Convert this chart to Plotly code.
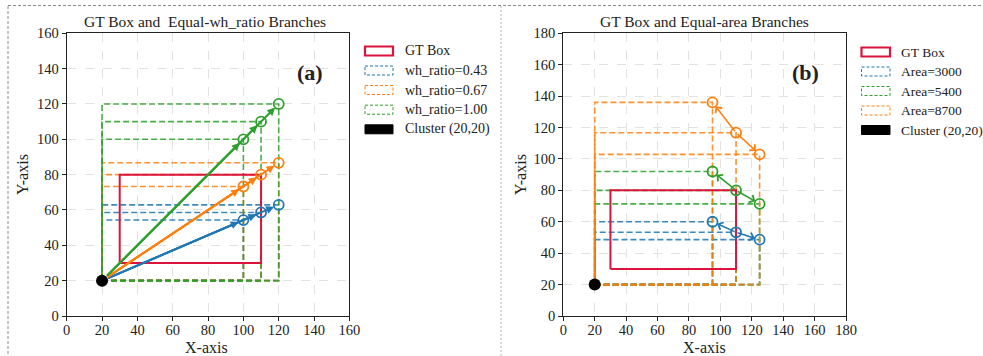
import plotly.graph_objects as go

# ---------------- data ----------------
cluster = (20, 20)
gt_box_x = [30, 110]
gt_box_y = [30, 80]

# panel (a): equal wh_ratio branches
a_labels = ["wh_ratio=0.43", "wh_ratio=0.67", "wh_ratio=1.00"]
a_corner_x = [100, 110, 120]
a_blue_y = [54.3, 58.6, 62.9]
a_orange_y = [73.3, 80.0, 86.7]
a_green_y = [100, 110, 120]

# panel (b): equal area branches
b_labels = ["Area=3000", "Area=5400", "Area=8700"]
b_corner_x = [95, 110, 125]
b_blue_y = [60.0, 53.3, 48.6]
b_green_y = [92.0, 80.0, 71.4]
b_orange_y = [136.0, 116.7, 102.9]

a_ticks = [0, 20, 40, 60, 80, 100, 120, 140, 160]
b_ticks = [0, 20, 40, 60, 80, 100, 120, 140, 160, 180]

BLUE, ORANGE, GREEN = "#1f77b4", "#ff7f0e", "#2ca02c"
RED = "#dc143c"
FONT = "Liberation Serif"
W, H = 983, 356


def px(x):
    return x / W


def py(y):
    return 1 - y / H


fig = go.Figure()


def add_panel(xa, ya, corner_x, series, arrows_mode):
    # dashed rectangles from cluster to each corner
    for ys, col in series:
        for cx, cy in zip(corner_x, ys):
            fig.add_trace(go.Scatter(
                x=[cluster[0], cx, cx, cluster[0], cluster[0]],
                y=[cluster[1], cluster[1], cy, cy, cluster[1]],
                mode="lines", xaxis=xa, yaxis=ya, showlegend=False,
                line=dict(color=col, width=1.6, dash="6px,3px"), opacity=0.85,
                hoverinfo="skip"))
    # GT box
    fig.add_trace(go.Scatter(
        x=[gt_box_x[0], gt_box_x[1], gt_box_x[1], gt_box_x[0], gt_box_x[0]],
        y=[gt_box_y[0], gt_box_y[0], gt_box_y[1], gt_box_y[1], gt_box_y[0]],
        mode="lines", xaxis=xa, yaxis=ya, showlegend=False,
        line=dict(color=RED, width=2)))
    # circles at corners
    for ys, col in series:
        fig.add_trace(go.Scatter(
            x=corner_x, y=ys, mode="markers", xaxis=xa, yaxis=ya, showlegend=False,
            marker=dict(symbol="circle-open", size=10, color=col, line=dict(width=1.8))))
    # cluster
    fig.add_trace(go.Scatter(
        x=[cluster[0]], y=[cluster[1]], mode="markers", xaxis=xa, yaxis=ya,
        showlegend=False, marker=dict(size=12, color="black")))
    # arrows
    for ys, col in series:
        if arrows_mode == "from_cluster":
            for cx, cy in zip(corner_x, ys):
                fig.add_annotation(
                    x=cx, y=cy, ax=cluster[0], ay=cluster[1], xref=xa, yref=ya,
                    axref=xa, ayref=ya, text="", showarrow=True, arrowhead=2,
                    arrowsize=0.8, arrowwidth=2, arrowcolor=col, standoff=5,
                    startstandoff=5)
        else:
            mx, my = corner_x[1], ys[1]
            for k in (0, 2):
                fig.add_annotation(
                    x=corner_x[k], y=ys[k], ax=mx, ay=my, xref=xa, yref=ya,
                    axref=xa, ayref=ya, text="", showarrow=True, arrowhead=4,
                    arrowsize=1.0, arrowwidth=1.6, arrowcolor=col, standoff=5,
                    startstandoff=0)


add_panel("x", "y", a_corner_x,
          [(a_blue_y, BLUE), (a_orange_y, ORANGE), (a_green_y, GREEN)], "from_cluster")
add_panel("x2", "y2", b_corner_x,
          [(b_blue_y, BLUE), (b_green_y, GREEN), (b_orange_y, ORANGE)], "from_middle")

axis_common = dict(
    automargin=False,
    showline=True, linecolor="#222", linewidth=1.2, mirror=True,
    ticks="outside", ticklen=4, tickcolor="#222", tickwidth=1,
    showgrid=True, gridcolor="#e2e2e2", gridwidth=0.8, griddash="dash",
    zeroline=False, tickfont=dict(family=FONT, size=14.5, color="#222"),
)

yd = [py(316), py(33.3)]
fig.update_layout(
    template="none",
    width=W, height=H, autosize=False,
    margin=dict(l=0, r=0, t=0, b=0, pad=0),
    paper_bgcolor="white", plot_bgcolor="white",
    showlegend=False,
    xaxis=dict(domain=[px(66.7), px(349.4)], range=[0, 160], tickvals=a_ticks,
               anchor="y", ticklabelstandoff=-4, **axis_common),
    yaxis=dict(domain=yd, range=[0, 160], tickvals=a_ticks, anchor="x", **axis_common),
    xaxis2=dict(domain=[px(563.3), px(846)], range=[0, 180], tickvals=b_ticks,
                anchor="y2", ticklabelstandoff=-4, **axis_common),
    yaxis2=dict(domain=yd, range=[0, 180], tickvals=b_ticks, anchor="x2", **axis_common),
)

# panel borders
border = dict(color="#8a8a8a", width=1, dash="3px,2px")
fig.add_shape(type="line", xref="paper", yref="paper", x0=px(8), x1=px(8), y0=py(6), y1=0, line=border)
fig.add_shape(type="line", xref="paper", yref="paper", x0=px(8), x1=1, y0=py(5.5), y1=py(5.5), line=border)
fig.add_shape(type="line", xref="paper", yref="paper", x0=px(501), x1=px(501), y0=py(6), y1=0,
              line=dict(color="#cfcfcf", width=1.5, dash="2px,2px"))


def text(x, y, s, size=14, bold=False, xanchor="center", angle=0):
    fig.add_annotation(
        x=px(x), y=py(y), xref="paper", yref="paper", text=f"<b>{s}</b>" if bold else s,
        showarrow=False, xanchor=xanchor, yanchor="middle", textangle=angle,
        font=dict(family=FONT, size=size, color="#222"))


# titles, axis titles, panel tags
text(205, 21.5, "GT Box and &nbsp;Equal-wh_ratio Branches", 15.5)
text(704, 21.5, "GT Box and Equal-area Branches", 15.5)
text(206, 347.5, "X-axis", 16)
text(704, 347.5, "X-axis", 16)
text(22, 175, "Y-axis", 16, angle=-90)
text(520, 175, "Y-axis", 16, angle=-90)
text(310, 72, "(a)", 22, bold=True)
text(805, 72, "(b)", 22, bold=True)


def draw_legend(x0, x1, xt, ys, labels, colors, size):
    for i, (yc, lab) in enumerate(zip(ys, labels)):
        if i == 0:
            st = dict(line=dict(color=RED, width=2.2), fillcolor="white")
        elif i == 4:
            st = dict(line=dict(color="black", width=1), fillcolor="black")
        else:
            st = dict(line=dict(color=colors[i - 1], width=1, dash="3px,2px"), fillcolor="white")
        fig.add_shape(type="rect", xref="paper", yref="paper",
                      x0=px(x0), x1=px(x1), y0=py(yc - 4.5), y1=py(yc + 4.5), **st)
        text(xt, yc, lab, size, xanchor="left")


draw_legend(365, 393, 403, [51, 70.5, 90, 109.7, 129.3],
            ["GT Box"] + a_labels + ["Cluster (20,20)"], [BLUE, ORANGE, GREEN], 14)
draw_legend(861.5, 890, 899, [52, 71.5, 91, 110.5, 130],
            ["GT Box"] + b_labels + ["Cluster (20,20)"], [BLUE, GREEN, ORANGE], 13.5)

fig.write_html("out.html", config={"displayModeBar": False},
               post_script="document.body.style.margin='0';document.body.style.overflow='hidden';")
